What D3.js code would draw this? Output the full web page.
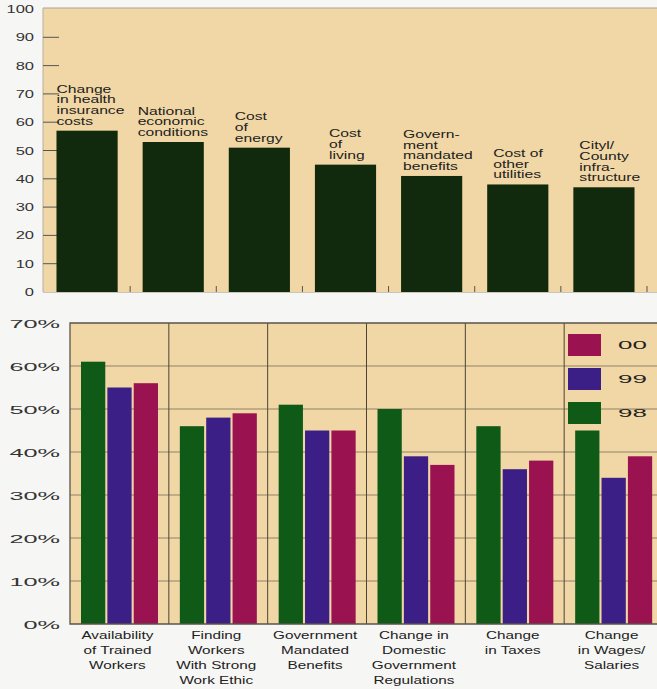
<!DOCTYPE html>
<html>
<head>
<meta charset="utf-8">
<script src="https://cdn.jsdelivr.net/npm/d3@7"></script>
<style>
  html, body { margin: 0; padding: 0; background: #f6f6f4; }
  svg { display: block; font-family: "Liberation Sans", Arial, sans-serif; }
</style>
</head>
<body>
<svg id="chart" width="657" height="689"></svg>
<script>
// ---------- DATA ----------
const topCategories = [
  "Change in health insurance costs",
  "National economic conditions",
  "Cost of energy",
  "Cost of living",
  "Government mandated benefits",
  "Cost of other utilities",
  "Cityl/ County infrastructure"
];
const topLabelLines = [
  ["Change", "in health", "insurance", "costs"],
  ["National", "economic", "conditions"],
  ["Cost", "of", "energy"],
  ["Cost", "of", "living"],
  ["Govern-", "ment", "mandated", "benefits"],
  ["Cost of", "other", "utilities"],
  ["Cityl/", "County", "infra-", "structure"]
];
const topValues = [57, 53, 51, 45, 41, 38, 37];
const topTicks = [0, 10, 20, 30, 40, 50, 60, 70, 80, 90, 100];

const groupCategories = [
  "Availability of Trained Workers",
  "Finding Workers With Strong Work Ethic",
  "Government Mandated Benefits",
  "Change in Domestic Government Regulations",
  "Change in Taxes",
  "Change in Wages/ Salaries"
];
const groupLabelLines = [
  ["Availability", "of Trained", "Workers"],
  ["Finding", "Workers", "With Strong", "Work Ethic"],
  ["Government", "Mandated", "Benefits"],
  ["Change in", "Domestic", "Government", "Regulations"],
  ["Change", "in Taxes"],
  ["Change", "in Wages/", "Salaries"]
];
const seriesNames = ["98", "99", "00"];
const values98 = [61, 46, 51, 50, 46, 45];
const values99 = [55, 48, 45, 39, 36, 34];
const values00 = [56, 49, 45, 37, 38, 39];
const bottomTicks = [0, 10, 20, 30, 40, 50, 60, 70];
const legendOrder = ["00", "99", "98"];

// ---------- STYLE ----------
const beige = "#f1d7a5";
const topBarColor = "#11290c";
const seriesColors = { "98": "#0e5a16", "99": "#3b1f86", "00": "#9b1250" };
const labelDx = [0, -5, 6, 14, 2, 6, 6];

const svg = d3.select("#chart");

function stretchText(g, x, y, str, sx, size, anchor, fill) {
  return g.append("text")
    .attr("transform", `translate(${x},${y}) scale(${sx},1)`)
    .attr("text-anchor", anchor)
    .attr("font-size", size)
    .attr("fill", fill || "#222")
    .text(str);
}

// ================= TOP CHART =================
const T = { left: 43, right: 657, top: 8, bottom: 292 };
const topG = svg.append("g");

topG.append("rect")
  .attr("x", T.left).attr("y", T.top)
  .attr("width", T.right - T.left).attr("height", T.bottom - T.top)
  .attr("fill", beige);
topG.append("line").attr("x1", T.left).attr("x2", T.right).attr("y1", T.top).attr("y2", T.top)
  .attr("stroke", "#a8a49c").attr("stroke-width", 1.2);
topG.append("line").attr("x1", T.left).attr("x2", T.left).attr("y1", T.top).attr("y2", T.bottom)
  .attr("stroke", "#b8b0a0").attr("stroke-width", 1);

const xTop = d3.scaleBand().domain(topCategories).range([44, 647]).paddingInner(0.29).paddingOuter(0.145);
const yTop = d3.scaleLinear().domain([0, 100]).range([T.bottom, 9]);

// left ticks
topTicks.filter(t => t > 0 && t < 100).forEach(t => {
  topG.append("line").attr("x1", T.left).attr("x2", T.left + 16)
    .attr("y1", yTop(t)).attr("y2", yTop(t))
    .attr("stroke", "#555").attr("stroke-width", 1);
});
// tick labels
topTicks.forEach(t => {
  stretchText(topG, 34, yTop(t) + 4, String(t), 1.65, 10, "end", "#333");
});

// bars
topG.selectAll("rect.bar").data(topValues).join("rect")
  .attr("class", "bar")
  .attr("x", (d, i) => xTop(topCategories[i]))
  .attr("y", d => yTop(d))
  .attr("width", xTop.bandwidth())
  .attr("height", d => yTop(0) - yTop(d))
  .attr("fill", topBarColor);

// bottom separators
topCategories.forEach(c => {
  const xs = xTop(c) + xTop.bandwidth() + xTop.step() * xTop.paddingInner() / 2;
  topG.append("line").attr("x1", xs).attr("x2", xs).attr("y1", T.bottom - 6).attr("y2", T.bottom)
    .attr("stroke", "#555").attr("stroke-width", 1);
});
topG.append("line").attr("x1", T.left).attr("x2", T.right).attr("y1", T.bottom + 0.5).attr("y2", T.bottom + 0.5)
  .attr("stroke", "#c8c4bc").attr("stroke-width", 1);

// bar labels
topLabelLines.forEach((lines, i) => {
  const lx = xTop(topCategories[i]) + labelDx[i];
  const yb = yTop(topValues[i]) - 6;
  lines.forEach((ln, k) => {
    stretchText(topG, lx, yb - (lines.length - 1 - k) * 10.7, ln, 1.52, 10.3, "start", "#222");
  });
});

// ================= BOTTOM CHART =================
const B = { left: 70, right: 663, top: 323, bottom: 624 };
const botG = svg.append("g");

botG.append("rect")
  .attr("x", B.left).attr("y", B.top)
  .attr("width", B.right - B.left).attr("height", B.bottom - B.top)
  .attr("fill", beige);

const xGroup = d3.scaleBand().domain(groupCategories).range([B.left, B.right]).padding(0);
const xSeries = d3.scaleBand().domain(seriesNames).range([11, 88]).paddingInner(0.08);
const yB = d3.scaleLinear().domain([0, 70]).range([B.bottom, B.top]);

// gridlines
bottomTicks.filter(t => t > 0 && t < 70).forEach(t => {
  botG.append("line").attr("x1", B.left).attr("x2", B.right)
    .attr("y1", yB(t)).attr("y2", yB(t))
    .attr("stroke", "#8f8268").attr("stroke-width", 1);
});
// group separators
groupCategories.slice(1).forEach(c => {
  botG.append("line").attr("x1", xGroup(c)).attr("x2", xGroup(c)).attr("y1", B.top).attr("y2", B.bottom)
    .attr("stroke", "#4a4438").attr("stroke-width", 1);
});
// tick labels
bottomTicks.forEach(t => {
  stretchText(botG, 60, yB(t) + 4.5, t + "%", 2.2, 11.5, "end", "#333");
});

// bars
const seriesVals = { "98": values98, "99": values99, "00": values00 };
seriesNames.forEach(s => {
  botG.selectAll("rect.s" + s).data(seriesVals[s]).join("rect")
    .attr("class", "s" + s)
    .attr("x", (d, i) => xGroup(groupCategories[i]) + xSeries(s))
    .attr("y", d => yB(d))
    .attr("width", xSeries.bandwidth())
    .attr("height", d => yB(0) - yB(d))
    .attr("fill", seriesColors[s]);
});

// frame
botG.append("path")
  .attr("d", `M${B.right},${B.top}H${B.left}V${B.bottom}H${B.right}`)
  .attr("fill", "none").attr("stroke", "#5a5448").attr("stroke-width", 1.3);

// legend
legendOrder.forEach((s, i) => {
  const yy = 334 + i * 34;
  botG.append("rect").attr("x", 568).attr("y", yy).attr("width", 33).attr("height", 22)
    .attr("fill", seriesColors[s]);
  stretchText(botG, 618, yy + 15, s, 2.6, 10, "start", "#222");
});

// x labels
groupLabelLines.forEach((lines, i) => {
  const cx = xGroup(groupCategories[i]) + xGroup.bandwidth() / 2 - 2;
  lines.forEach((ln, k) => {
    stretchText(botG, cx, 639 + k * 15, ln, 1.32, 11.6, "middle", "#222");
  });
});
</script>
</body>
</html>
